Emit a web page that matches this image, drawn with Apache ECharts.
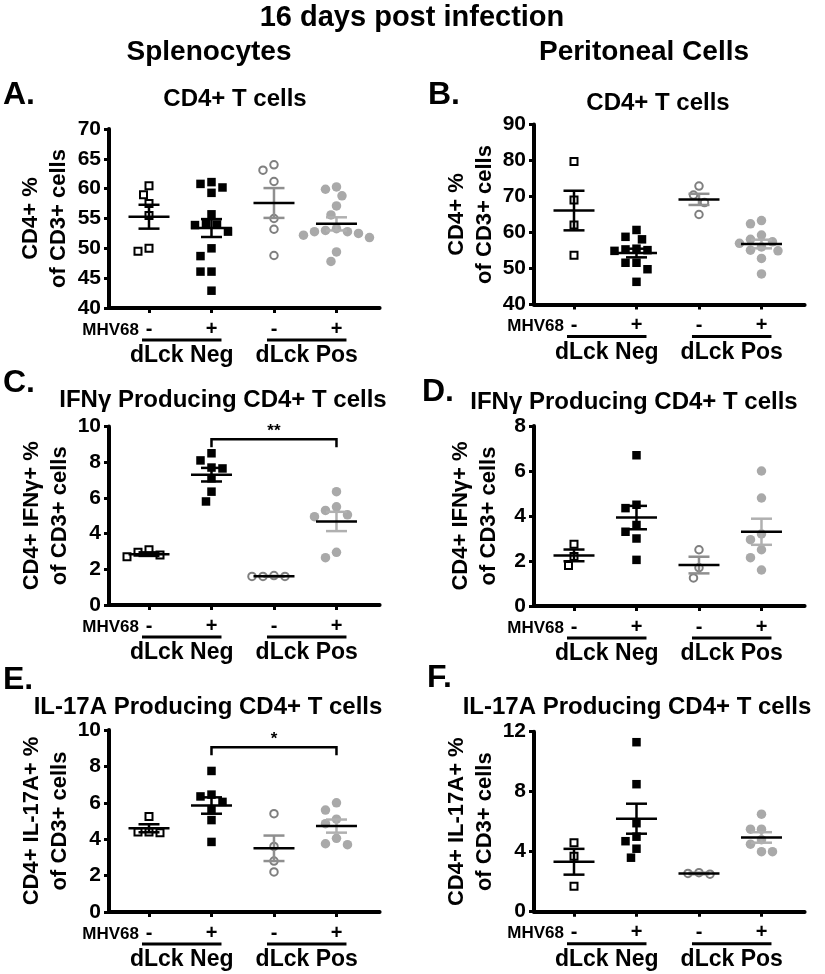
<!DOCTYPE html>
<html><head><meta charset="utf-8">
<script src="https://cdn.jsdelivr.net/npm/echarts@6/dist/echarts.min.js"></script>
<style>html,body{margin:0;padding:0;background:#fff}#c{width:825px;height:974px}</style>
</head><body><div id="c"></div>
<script>
// ---------- tick / category labels ----------
const mhvSigns = ['-', '+', '-', '+'];
const dlckGroups = ['dLck Neg', 'dLck Pos'];
const mhvName = 'MHV68';

// ---------- Panel A: Splenocytes CD4+ ----------
const aNegMinus = [60.5, 59.0, 57.5, 55.5, 50.0, 49.5];
const aNegPlus  = [61.1, 60.8, 60.2, 59.3, 55.7, 54.2, 54.0, 53.9, 52.8, 50.0, 48.7, 46.1, 46.1, 42.9];
const aPosMinus = [64.0, 63.1, 61.2, 55.0, 53.2, 48.8];
const aPosPlus  = [60.3, 59.9, 58.8, 57.1, 55.6, 53.3, 53.0, 52.8, 52.8, 52.5, 52.2, 51.8, 49.4, 47.8];
const aMeans = [55.3, 53.4, 57.6, 54.1];
const aSems  = [2.0, 1.5, 2.5, 1.1];

// ---------- Panel B: Peritoneal CD4+ ----------
const bNegMinus = [79.7, 69.0, 62.1, 53.7];
const bNegPlus  = [60.7, 58.8, 58.1, 55.5, 55.3, 55.1, 54.9, 51.6, 51.6, 49.8, 46.3];
const bPosMinus = [72.9, 70.4, 68.3, 65.0];
const bPosPlus  = [63.3, 62.4, 59.3, 58.1, 57.4, 57.0, 56.0, 55.1, 54.9, 52.8, 48.5];
const bMeans = [66.1, 54.3, 69.2, 56.8];
const bSems  = [5.5, 1.2, 1.55, 1.2];

// ---------- Panel C: Splenocytes IFNg ----------
const cNegMinus = [2.7, 3.1, 2.8, 2.95];
const cNegPlus  = [8.5, 8.1, 7.7, 7.65, 7.1, 6.35, 5.8];
const cPosMinus = [1.6, 1.65, 1.6, 1.6];
const cPosPlus  = [6.35, 5.5, 5.3, 5.05, 4.95, 2.95, 2.65];
const cMeans = [2.85, 7.3, 1.61, 4.68];
const cSems  = [0.1, 0.38, 0.02, 0.54];

// ---------- Panel D: Peritoneal IFNg ----------
const dNegMinus = [2.75, 2.2, 1.8];
const dNegPlus  = [6.7, 4.5, 4.35, 3.6, 3.3, 3.0, 2.05];
const dPosMinus = [2.5, 1.7, 1.25];
const dPosPlus  = [6.0, 4.8, 3.2, 2.95, 2.5, 2.15, 1.6];
const dMeans = [2.25, 3.93, 1.82, 3.3];
const dSems  = [0.26, 0.52, 0.37, 0.58];

// ---------- Panel E: Splenocytes IL-17A ----------
const eNegMinus = [5.25, 4.4, 4.4, 4.35];
const eNegPlus  = [7.75, 6.45, 6.35, 6.05, 5.65, 5.05, 3.85];
const ePosMinus = [5.4, 3.6, 2.8, 2.2];
const ePosPlus  = [6.0, 5.6, 5.1, 4.85, 4.05, 3.75, 3.7];
const eMeans = [4.6, 5.85, 3.5, 4.72];
const eSems  = [0.22, 0.45, 0.7, 0.36];

// ---------- Panel F: Peritoneal IL-17A ----------
const fNegMinus = [4.6, 3.7, 1.7];
const fNegPlus  = [11.3, 8.5, 5.9, 5.0, 4.7, 4.2, 3.6];
const fPosMinus = [2.5, 2.6, 2.55];
const fPosPlus  = [6.5, 5.5, 5.5, 4.8, 4.5, 4.0, 4.0];
const fMeans = [3.33, 6.2, 2.55, 4.95];
const fSems  = [0.86, 1.0, 0.05, 0.35];

// ---------- significance ----------
const cSig = {from: 1, to: 3, level: 9.28, label: '**'};
const eSig = {from: 1, to: 3, level: 9.05, label: '*'};

// ---------- axes ----------
const aTicks = {min: 40, max: 70, step: 5};
const bTicks = {min: 40, max: 90, step: 10};
const cTicks = {min: 0, max: 10, step: 2};
const dTicks = {min: 0, max: 8, step: 2};
const eTicks = {min: 0, max: 10, step: 2};
const fTicks = {min: 0, max: 12, step: 4};

const panels = [
  {letter:'A.', title:'CD4+ T cells', yName:'CD4+ %\nof CD3+ cells', ticks:aTicks, groups:[aNegMinus,aNegPlus,aPosMinus,aPosPlus], means:aMeans, sems:aSems, sig:null},
  {letter:'B.', title:'CD4+ T cells', yName:'CD4+ %\nof CD3+ cells', ticks:bTicks, groups:[bNegMinus,bNegPlus,bPosMinus,bPosPlus], means:bMeans, sems:bSems, sig:null},
  {letter:'C.', title:'IFNγ Producing CD4+ T cells', yName:'CD4+ IFNγ+ %\nof CD3+ cells', ticks:cTicks, groups:[cNegMinus,cNegPlus,cPosMinus,cPosPlus], means:cMeans, sems:cSems, sig:cSig},
  {letter:'D.', title:'IFNγ Producing CD4+ T cells', yName:'CD4+ IFNγ+ %\nof CD3+ cells', ticks:dTicks, groups:[dNegMinus,dNegPlus,dPosMinus,dPosPlus], means:dMeans, sems:dSems, sig:null},
  {letter:'E.', title:'IL-17A Producing CD4+ T cells', yName:'CD4+ IL-17A+ %\nof CD3+ cells', ticks:eTicks, groups:[eNegMinus,eNegPlus,ePosMinus,ePosPlus], means:eMeans, sems:eSems, sig:eSig},
  {letter:'F.', title:'IL-17A Producing CD4+ T cells', yName:'CD4+ IL-17A+ %\nof CD3+ cells', ticks:fTicks, groups:[fNegMinus,fNegPlus,fPosMinus,fPosPlus], means:fMeans, sems:fSems, sig:null}
];

// ---------- layout & style ----------
const FONT = "'Liberation Sans', Arial, Helvetica, sans-serif";
const X_MIN = -0.64, X_MAX = 3.69, GRID_W = 270.6;
const layout = [
  {left:109, top:129,   height:179,   nameGap:36, letterX:3,   letterY:95,  titleX:235, titleY:99},
  {left:534, top:124.5, height:180,   nameGap:31, letterX:428, letterY:95,  titleX:658, titleY:103},
  {left:109, top:426.5, height:178.5, nameGap:35, letterX:3,   letterY:383, titleX:223, titleY:400},
  {left:534, top:426,   height:180,   nameGap:31, letterX:422, letterY:392, titleX:634, titleY:402},
  {left:109, top:730,   height:182,   nameGap:35, letterX:3,   letterY:680, titleX:208, titleY:707},
  {left:534, top:731.7, height:180,   nameGap:31, letterX:427, letterY:678, titleX:637, titleY:707}
];
const symShape  = ['rect', 'rect', 'circle', 'circle'];
const symFill   = ['#ffffff', '#000000', '#ffffff', '#a9a9a9'];
const symBorder = ['#000000', '#000000', '#7f7f7f', '#a9a9a9'];
const symBW     = [2, 0, 2, 0];
const symSize   = [7, 8.5, 7.5, 9.5];
const semColor  = ['#000000', '#000000', '#8f8f8f', '#b0b0b0'];
const SWARM = 11;

// beeswarm horizontal offsets (in x data units) so symbols do not overlap
function swarm(values, pxY, pxX) {
  const order = values.map((v, i) => i).sort((a, b) => values[b] - values[a]);
  const placed = [];
  const off = new Array(values.length).fill(0);
  const cands = [0];
  for (let k = 1; k <= 12; k++) { cands.push(-k * SWARM / 2, k * SWARM / 2); }
  order.forEach(i => {
    const y = values[i] * pxY;
    for (const c of cands) {
      const ok = placed.every(p => (p[0] - c) ** 2 + (p[1] - y) ** 2 >= (SWARM - 0.5) ** 2);
      if (ok) { placed.push([c, y]); off[i] = c / pxX; break; }
    }
  });
  return off;
}

function renderErr(params, api) {
  const x = api.value(0), m = api.value(1), s = api.value(2), g = api.value(3);
  const c = api.coord([x, m]), t = api.coord([x, m + s]), b = api.coord([x, m - s]);
  const col = semColor[g];
  const st = {stroke: col, lineWidth: 2.5};
  return {type: 'group', children: [
    {type: 'line', shape: {x1: t[0], y1: t[1], x2: b[0], y2: b[1]}, style: st},
    {type: 'line', shape: {x1: t[0] - 10.5, y1: t[1], x2: t[0] + 10.5, y2: t[1]}, style: st},
    {type: 'line', shape: {x1: b[0] - 10.5, y1: b[1], x2: b[0] + 10.5, y2: b[1]}, style: st},
    {type: 'line', shape: {x1: c[0] - 20.5, y1: c[1], x2: c[0] + 20.5, y2: c[1]}, style: {stroke: '#000', lineWidth: 2.5}}
  ]};
}

function makeSigRenderer(label) {
  return function (params, api) {
    const p1 = api.coord([api.value(0), api.value(2)]);
    const p2 = api.coord([api.value(1), api.value(2)]);
    return {type: 'group', children: [
      {type: 'polyline', shape: {points: [[p1[0], p1[1] + 8], [p1[0], p1[1]], [p2[0], p2[1]], [p2[0], p2[1] + 8]]},
        style: {stroke: '#000', lineWidth: 2.5, fill: null}},
      {type: 'text', style: {text: label, x: (p1[0] + p2[0]) / 2, y: p1[1] - 8, align: 'center', verticalAlign: 'middle',
        font: 'bold 17px ' + FONT, fill: '#000'}}
    ]};
  };
}

const grids = [], xAxes = [], yAxes = [], series = [];
panels.forEach((p, i) => {
  const L = layout[i];
  grids.push({left: L.left, top: L.top, width: GRID_W, height: L.height, containLabel: false, outerBoundsMode: 'none'});
  xAxes.push({
    gridIndex: i, type: 'value', min: X_MIN, max: X_MAX,
    axisLine: {show: true, onZero: false, lineStyle: {color: '#000', width: 4}},
    axisTick: {show: true, customValues: [0, 1, 2, 3], length: 5, lineStyle: {color: '#000', width: 3}},
    axisLabel: {show: true, customValues: [0, 1, 2, 3], formatter: v => mhvSigns[Math.round(v)],
      margin: 11, fontSize: 20, fontWeight: 'bold', color: '#000', fontFamily: FONT},
    splitLine: {show: false}
  });
  yAxes.push({
    gridIndex: i, type: 'value', min: p.ticks.min, max: p.ticks.max, interval: p.ticks.step,
    name: p.yName, nameLocation: 'middle', nameGap: L.nameGap, nameRotate: 90,
    nameTextStyle: {fontSize: 22, fontWeight: 'bold', color: '#000', lineHeight: 28, fontFamily: FONT},
    axisLine: {show: true, onZero: false, lineStyle: {color: '#000', width: 4}},
    axisTick: {show: true, length: 5, lineStyle: {color: '#000', width: 3}},
    axisLabel: {fontSize: 21, fontWeight: 'bold', color: '#000', margin: 8, fontFamily: FONT},
    splitLine: {show: false}
  });
  const pxY = L.height / (p.ticks.max - p.ticks.min);
  const pxX = GRID_W / (X_MAX - X_MIN);
  p.groups.forEach((vals, g) => {
    const off = swarm(vals, pxY, pxX);
    series.push({
      type: 'scatter', xAxisIndex: i, yAxisIndex: i, z: 2,
      symbol: symShape[g], symbolSize: symSize[g],
      itemStyle: {color: symFill[g], borderColor: symBorder[g], borderWidth: symBW[g], opacity: 1},
      data: vals.map((v, k) => [g + off[k], v]),
      silent: true
    });
  });
  series.push({
    type: 'custom', xAxisIndex: i, yAxisIndex: i, z: 3, renderItem: renderErr,
    data: p.means.map((m, g) => [g, m, p.sems[g], g]), silent: true
  });
  if (p.sig) {
    series.push({
      type: 'custom', xAxisIndex: i, yAxisIndex: i, z: 3, renderItem: makeSigRenderer(p.sig.label),
      data: [[p.sig.from, p.sig.to, p.sig.level]], silent: true
    });
  }
});

const chart = echarts.init(document.getElementById('c'), null, {renderer: 'canvas'});
chart.setOption({
  animation: false, backgroundColor: '#fff',
  grid: grids, xAxis: xAxes, yAxis: yAxes, series: series
});

// texts: headings, panel letters, titles, x-axis group annotations
const gfx = [];
function txt(text, x, y, size, align) {
  gfx.push({type: 'text', x: x, y: y, style: {text: text, align: align || 'center', verticalAlign: 'middle',
    font: 'bold ' + size + 'px ' + FONT, fill: '#000'}});
}
txt('16 days post infection', 412, 18, 29);
txt('Splenocytes', 209, 52, 28);
txt('Peritoneal Cells', 644, 52, 28);
panels.forEach((p, i) => {
  const L = layout[i];
  txt(p.letter, L.letterX, L.letterY, 32, 'left');
  txt(p.title, L.titleX, L.titleY, 24);
  const base = chart.convertToPixel({xAxisIndex: i, yAxisIndex: i}, [0, p.ticks.min])[1];
  const px = k => chart.convertToPixel({xAxisIndex: i, yAxisIndex: i}, [k, p.ticks.min])[0];
  txt(mhvName, L.left + 30, base + 22, 17, 'right');
  [[0, 1], [2, 3]].forEach((pair, gi) => {
    const x1 = px(pair[0]) - 7, x2 = px(pair[1]) + 10;
    gfx.push({type: 'line', shape: {x1: x1, y1: base + 32, x2: x2, y2: base + 32}, style: {stroke: '#000', lineWidth: 3}});
    txt(dlckGroups[gi], (x1 + x2) / 2, base + 48, 23);
  });
});
chart.setOption({graphic: {elements: gfx}});
</script>
</body></html>
